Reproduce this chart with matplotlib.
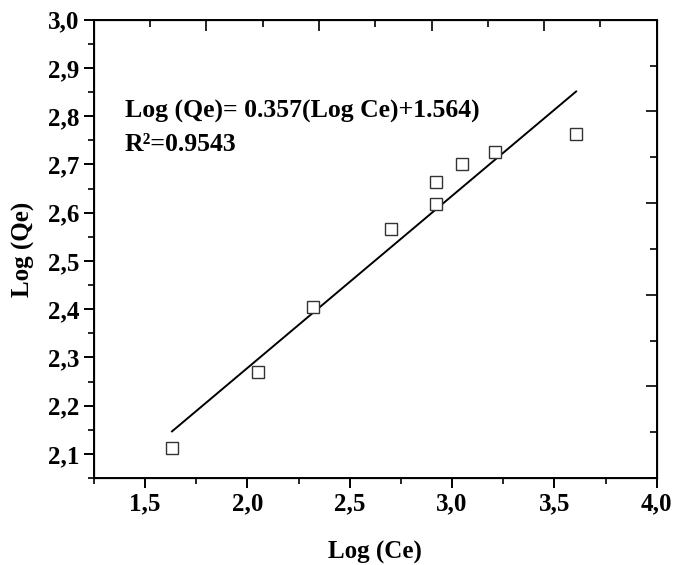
import matplotlib.pyplot as plt
from matplotlib.ticker import MultipleLocator, FuncFormatter

# data
log_ce = [1.632, 2.05, 2.32, 2.704, 2.923, 2.923, 3.05, 3.211, 3.606]
log_qe = [2.112, 2.27, 2.405, 2.567, 2.619, 2.663, 2.70, 2.725, 2.764]
slope = 0.357
intercept = 1.564
eq_text = "Log (Qe)= 0.357(Log Ce)+1.564)"
r2_text = "R\u00b2=0.9543"

plt.rcParams['font.family'] = ['Liberation Serif', 'DejaVu Serif']
plt.rcParams['font.weight'] = 'bold'

fig = plt.figure(figsize=(6.75, 5.65), dpi=100)
ax = fig.add_axes([0.139, 0.154, 0.834, 0.811])

# fitted line over the data range
x_fit = [min(log_ce), max(log_ce)]
y_fit = [slope * x + intercept for x in x_fit]
ax.plot(x_fit, y_fit, color='black', lw=1.4)
ax.plot(log_ce, log_qe, ls='none', marker='s', ms=8.5, mfc='white',
        mec='#333333', mew=1.0)

ax.set_xlim(1.25, 4.0)
ax.set_ylim(2.05, 3.0)
ax.xaxis.set_major_locator(MultipleLocator(0.5))
ax.xaxis.set_minor_locator(MultipleLocator(0.25))
ax.yaxis.set_major_locator(MultipleLocator(0.1))
ax.yaxis.set_minor_locator(MultipleLocator(0.05))
comma = FuncFormatter(lambda v, p: f"{v:.1f}".replace('.', ','))
ax.xaxis.set_major_formatter(comma)
ax.yaxis.set_major_formatter(comma)
ax.tick_params(which='major', direction='out', length=7, width=1.4, labelsize=18)
ax.tick_params(which='minor', direction='out', length=4, width=1.2)
for s in ax.spines.values():
    s.set_linewidth(1.4)

# top and right frames carry their own inward ticks
top = ax.twiny()
top.set_xlim(0, 10)
top.xaxis.set_major_locator(MultipleLocator(2))
top.xaxis.set_minor_locator(MultipleLocator(1))
top.tick_params(which='major', direction='in', length=8, width=1.2, labeltop=False)
top.tick_params(which='minor', direction='in', length=5, width=1.2)
right = ax.twinx()
right.set_ylim(0, 10)
right.yaxis.set_major_locator(MultipleLocator(2))
right.yaxis.set_minor_locator(MultipleLocator(1))
right.tick_params(which='major', direction='in', length=8, width=1.2, labelright=False)
right.tick_params(which='minor', direction='in', length=5, width=1.2)

ax.set_xlabel("Log (Ce)", fontsize=18, fontweight='bold', labelpad=18)
ax.set_ylabel("Log (Qe)", fontsize=18, fontweight='bold', labelpad=9)

ax.text(1.40, 2.797, eq_text, fontsize=18.5, fontweight='bold', va='baseline')
ax.text(1.40, 2.727, r2_text, fontsize=18.5, fontweight='bold', va='baseline')

fig.savefig("out.png", dpi=100)
